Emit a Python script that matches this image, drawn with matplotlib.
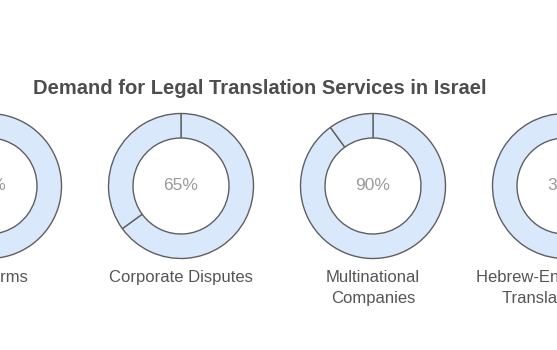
import matplotlib
matplotlib.use("Agg")
import matplotlib.pyplot as plt

categories = ["Law Firms", "Corporate Disputes", "Multinational\nCompanies", "Hebrew-English Judicial\nTranslation Work"]
values = [80, 65, 90, 35]
title = "Demand for Legal Translation Services in Israel"

plt.rcParams['font.family'] = ['Liberation Sans', 'DejaVu Sans']

W, H = 557, 350
fig = plt.figure(figsize=(W / 100, H / 100), dpi=100)
ax = fig.add_axes([0, 0, 1, 1])
ax.set_xlim(0, W)
ax.set_ylim(0, H)
ax.set_aspect('equal')
ax.axis('off')

x0, dx = -11, 192
cy = H - 186
r = 72.5
ring = 24.5
fill = '#dae8fc'
edge = '#5f5f5f'

for i, (cat, v) in enumerate(zip(categories, values)):
    cx = x0 + dx * i
    ax.pie([v, 100 - v], center=(cx, cy), radius=r, startangle=90, counterclock=False,
           colors=[fill, fill],
           wedgeprops=dict(width=ring, edgecolor=edge, linewidth=1.0))
    ax.text(cx, cy, f"{v}%", ha='center', va='center', fontsize=12.5, color='#9a9a9a')
    ax.text(cx, H - 270, cat, ha='center', va='top', fontsize=12, color='#555555',
            linespacing=1.5)

ax.set_xlim(0, W)
ax.set_ylim(0, H)
ax.text(260, H - 88, title, ha='center', va='center', fontsize=14.5, fontweight='bold',
        color='#4d4d4d')

fig.savefig('out.png', dpi=100)
